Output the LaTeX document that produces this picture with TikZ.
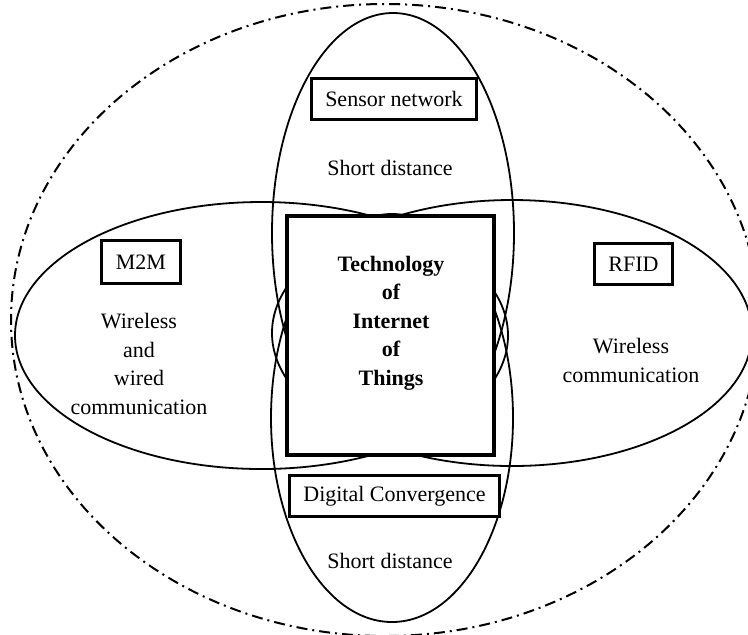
\documentclass[tikz,border=0pt]{standalone}
\usepackage{fontspec}
\setmainfont{Liberation Serif}
\begin{document}
\begin{tikzpicture}[x=0.5pt,y=-0.5pt,
    labelbox/.style={draw,line width=1.5pt,fill=white,inner sep=0pt,minimum height=20.5pt,font=\fontsize{11}{14.2}\selectfont},
    plain/.style={align=center,font=\fontsize{11}{14.2}\selectfont}]
\useasboundingbox (0,0) rectangle (748,634);
%Draw outer dash dot ellipse
    \draw[line width=1pt,dash pattern=on 5.5pt off 2.5pt on 1pt off 2.5pt] (385,320) ellipse [x radius=374,y radius=316];
%Draws the 4 overlapping ellipses: top, bottom, left, right
    \foreach \cx/\cy/\rx/\ry in {393/233/121/220,392/418/121/204,261.5/335.5/246.5/133.5,512/333/240/133}
        {
        \draw[line width=0.9pt] (\cx,\cy) ellipse [x radius=\rx,y radius=\ry];
    }
%Central box
    \node[draw,line width=1.9pt,fill=white,inner sep=0pt,minimum width=103.5pt,minimum height=119.5pt] (core) at (390.5,335.5) {};
    \node[plain,font=\fontsize{11}{14.2}\selectfont\bfseries] (coretext) at (391,323) {Technology\\of\\Internet\\of\\Things};
%Labels of the ellipses
    \node[labelbox,minimum width=82.5pt] (sensor) at (394,98.5) {Sensor network};
    \node[plain] (sensordist) at (390,168) {Short distance};
    \node[labelbox,minimum width=39.5pt,minimum height=21.5pt] (mtom) at (141,262) {M2M};
    \node[plain] (mtomtext) at (139,364) {Wireless\\and\\wired\\communication};
    \node[labelbox,minimum width=39pt] (rfid) at (633.5,264) {RFID};
    \node[plain] (rfidtext) at (631,360.5) {Wireless\\communication};
    \node[labelbox,minimum width=105pt] (digital) at (394.5,496) {Digital Convergence};
    \node[plain] (digitaldist) at (390,561) {Short distance};
\end{tikzpicture}
\end{document}
